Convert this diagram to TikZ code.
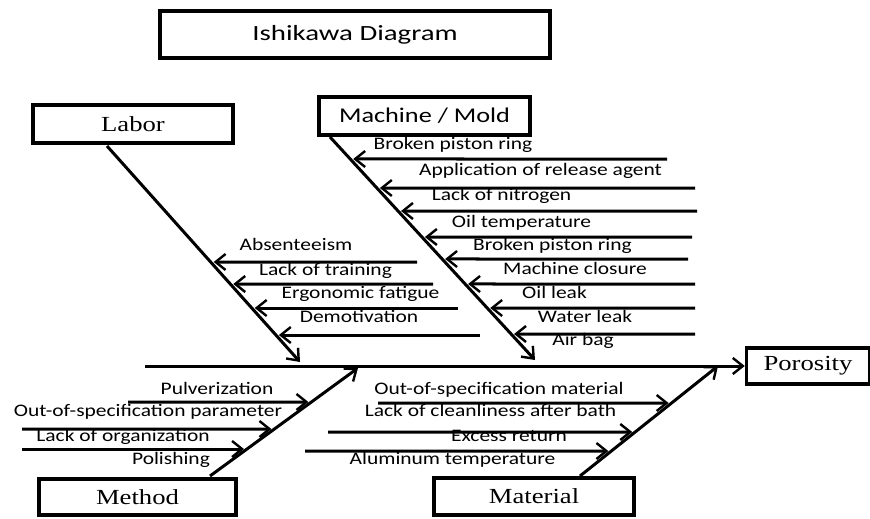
\documentclass[tikz,border=0pt]{standalone}
\usepackage{graphicx}
\usepackage{fontspec}
\setmainfont{Liberation Serif}
\setsansfont{Carlito}
\usetikzlibrary{arrows.meta,calc}
\newcommand\boxtxt[1]{\fontsize{21.5}{24}\selectfont\scalebox{1.24}[1]{#1}}

\begin{document}
\begin{tikzpicture}[x=1pt,y=-1pt,
    box/.style={draw,line width=3.5pt,inner sep=0pt},
    bone/.style={line width=3pt,-{Straight Barb[length=10pt,width=16pt,line width=2.4pt]}},
    cause/.style={bone,shorten >=3pt},
    lbl/.style={font=\sffamily\fontsize{17.6}{20}\selectfont,xscale=1.22,inner sep=0pt,anchor=mid}]
    \useasboundingbox (0,0) rectangle (870,519);
    \node[box,minimum width=390pt,minimum height=47pt](title) at (355,34.5){\sffamily\fontsize{21.7}{24}\selectfont\scalebox{1.33}[1]{Ishikawa Diagram}};
    \node[box,minimum width=200pt,minimum height=38pt](labor) at (133,124){\boxtxt{Labor}};
    \node[box,minimum width=211pt,minimum height=38pt](machine) at (424.5,116){\sffamily\fontsize{21}{24}\selectfont\scalebox{1.25}[1]{Machine / Mold}};
    \node[box,minimum width=197pt,minimum height=36pt](method) at (137.5,497){\boxtxt{Method}};
    \node[box,minimum width=200pt,minimum height=37pt](material) at (534,496.5){\boxtxt{Material}};
    \node[box,minimum width=123pt,minimum height=36pt](porosity) at (808,366){\boxtxt{Porosity}};
    \coordinate (sp) at (145,366);
    \coordinate (lb) at (107,146);\coordinate (le) at (300,362);
    \coordinate (mb) at (330,137);\coordinate (me) at (535,360);
    \coordinate (tb) at (210,476);\coordinate (te) at (358,368);
    \coordinate (ab) at (580,476);\coordinate (ae) at (718,366);
    \draw[bone](sp)--(porosity.west);
    \draw[bone](lb)--(le);
    \draw[bone](mb)--(me);
    \draw[bone](tb)--(te);
    \draw[bone](ab)--(ae);
    \foreach \t/\tx/\ty/\ly/\lx [count=\i] in {Absenteeism/296/248/262/417,Lack of training/325.5/273/284/433,
        Ergonomic fatigue/360.5/296/308/458,Demotivation/359/320/335/480}{
        \node[lbl](lt\i) at (\tx,\ty){\t};
        \pgfmathsetmacro\f{(\ly-146)/(362-146)}
        \coordinate (ls\i) at (\lx,\ly);
        \coordinate (lh\i) at ($(lb)!\f!(le)$);
        \draw[cause](ls\i)--(lh\i);
    }
    \foreach \t/\tx/\ty/\ly/\lx [count=\i] in {Broken piston ring/453/147/159/667,Application of release agent/540.5/173/188/695,
        Lack of nitrogen/501.5/198/211/697,Oil temperature/521.5/225/237/692,Broken piston ring/552.5/248/259/688,
        Machine closure/575/272/284/695,Oil leak/554.5/296/308/695,Water leak/585/320/334/695}{
        \node[lbl](mt\i) at (\tx,\ty){\t};
        \pgfmathsetmacro\f{(\ly-137)/(360-137)}
        \coordinate (ms\i) at (\lx,\ly);
        \coordinate (mh\i) at ($(mb)!\f!(me)$);
        \draw[cause](ms\i)--(mh\i);
    }
    \node[lbl](airbag) at (583,343){Air bag};
    \foreach \t/\tx/\ty/\ly/\lx [count=\i] in {Pulverization/217/392/402/128,Out-of-specification parameter/148/414/429/22,
        Lack of organization/123/439/449/22}{
        \node[lbl](tt\i) at (\tx,\ty){\t};
        \pgfmathsetmacro\f{(476-\ly)/(476-368)}
        \coordinate (ts\i) at (\lx,\ly);
        \coordinate (th\i) at ($(tb)!\f!(te)$);
        \draw[cause](ts\i)--(th\i);
    }
    \node[lbl](polishing) at (171,462){Polishing};
    \foreach \t/\tx/\ty/\ly/\lx [count=\i] in {Out-of-specification material/499/392/403/378,
        Lack of cleanliness after bath/490.5/414/432/328,Excess return/509/439/451/305}{
        \node[lbl](at\i) at (\tx,\ty){\t};
        \pgfmathsetmacro\f{(476-\ly)/(476-366)}
        \coordinate (as\i) at (\lx,\ly);
        \coordinate (ah\i) at ($(ab)!\f!(ae)$);
        \draw[cause](as\i)--(ah\i);
    }
    \node[lbl](alutemp) at (452.5,462){Aluminum temperature};
\end{tikzpicture}
\end{document}
